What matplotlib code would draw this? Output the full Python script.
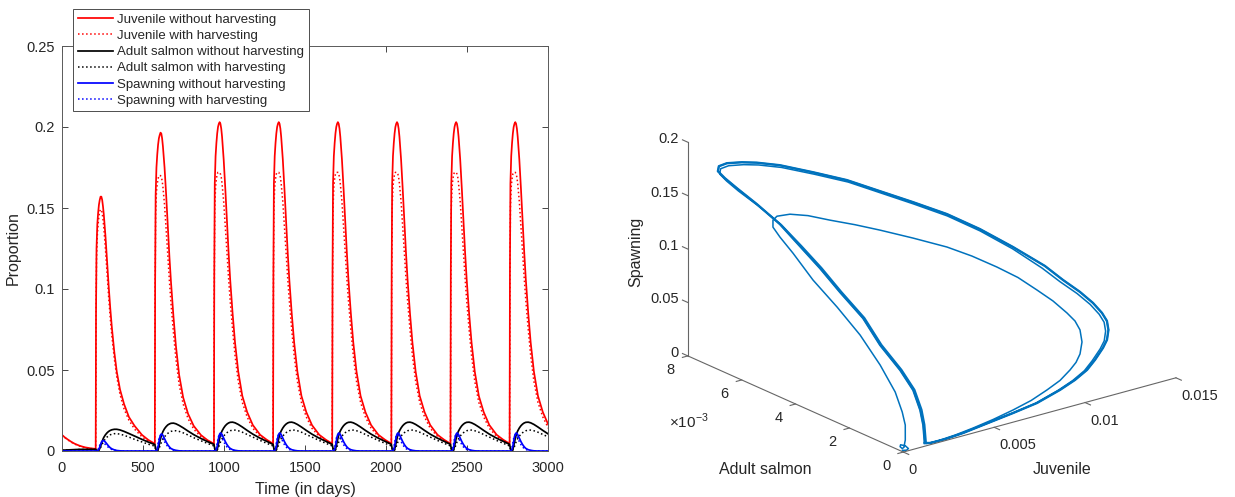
import numpy as np
import matplotlib
matplotlib.use("Agg")
import matplotlib.pyplot as plt
from mpl_toolkits.mplot3d import proj3d

plt.rcParams["font.family"] = ["Liberation Sans", "DejaVu Sans"]
plt.rcParams["mathtext.fontset"] = "custom"
plt.rcParams["mathtext.rm"] = "Liberation Sans"

# ---------------- time series (left panel) ----------------
# yearly release days and the days-after-release sampling used for every cycle
release_days = [208, 573, 938, 1303, 1668, 2033, 2398, 2763]
offsets = [0, 2, 5, 10, 15, 20, 25, 30, 35, 40, 45, 50, 60, 70, 80, 90,
           100, 115, 130, 150, 175, 205, 240, 285, 325, 364]

# before the first release
pre_days = [0, 20, 40, 60, 80, 110, 140, 175, 207]
juv_free_pre = [0.0099, 0.0082, 0.0068, 0.0055, 0.0044, 0.0032, 0.0023, 0.0017, 0.0013]
juv_harv_pre = [0.0099, 0.0081, 0.0066, 0.0053, 0.0042, 0.0030, 0.0021, 0.0015, 0.0012]
adult_free_pre = [0.0005, 0.0006, 0.0007, 0.0008, 0.0009, 0.0010, 0.0010, 0.0010, 0.0010]
adult_harv_pre = [0.0005, 0.0006, 0.0006, 0.0007, 0.0008, 0.0009, 0.0009, 0.0010, 0.0010]
spawn_free_pre = [0, 0, 0, 0, 0, 0, 0, 0, 0]
spawn_harv_pre = [0, 0, 0, 0, 0, 0, 0, 0, 0]

# juvenile, no harvesting: first, second and later (settled) cycles
juv_free_c1 = [0.0013, 0.085, 0.125, 0.140, 0.147, 0.152, 0.155, 0.157, 0.157, 0.155, 0.151, 0.146, 0.133,
               0.117, 0.102, 0.088, 0.076, 0.061, 0.049, 0.038, 0.029, 0.021, 0.0155, 0.010, 0.0068, 0.0045]
juv_free_c2 = [0.0045, 0.105, 0.158, 0.175, 0.183, 0.189, 0.193, 0.195, 0.1965, 0.196, 0.193, 0.188, 0.175,
               0.158, 0.139, 0.120, 0.104, 0.083, 0.065, 0.047, 0.033, 0.023, 0.0155, 0.0098, 0.0067, 0.0045]
juv_free_late = [0.0045, 0.110, 0.165, 0.182, 0.190, 0.196, 0.200, 0.202, 0.203, 0.202, 0.199, 0.194, 0.180,
                 0.162, 0.142, 0.123, 0.106, 0.085, 0.067, 0.049, 0.034, 0.024, 0.016, 0.010, 0.007, 0.0045]
# juvenile, with harvesting
juv_harv_c1 = [0.0012, 0.080, 0.118, 0.133, 0.140, 0.145, 0.148, 0.149, 0.149, 0.147, 0.143, 0.138, 0.125,
               0.110, 0.095, 0.082, 0.071, 0.057, 0.046, 0.035, 0.026, 0.019, 0.0135, 0.0088, 0.006, 0.0040]
juv_harv_c2 = [0.0040, 0.098, 0.146, 0.160, 0.165, 0.168, 0.170, 0.170, 0.170, 0.169, 0.167, 0.163, 0.152,
               0.137, 0.121, 0.105, 0.091, 0.073, 0.057, 0.041, 0.029, 0.020, 0.0135, 0.0087, 0.0060, 0.0040]
juv_harv_late = [0.0040, 0.100, 0.150, 0.163, 0.168, 0.171, 0.172, 0.172, 0.172, 0.171, 0.169, 0.165, 0.154,
                 0.139, 0.123, 0.107, 0.093, 0.075, 0.059, 0.043, 0.030, 0.021, 0.014, 0.009, 0.0062, 0.0040]
# adult salmon, no harvesting
adult_free_c1 = [0.0010, 0.0008, 0.0005, 0.0003, 0.0003, 0.0006, 0.0015, 0.0030, 0.0045, 0.0060, 0.0073, 0.0084,
                 0.0100, 0.0112, 0.0121, 0.0127, 0.0131, 0.0134, 0.0134, 0.0130, 0.0121, 0.0108, 0.0092,
                 0.0072, 0.0055, 0.0040]
adult_free_c2 = [0.0040, 0.0030, 0.0015, 0.0004, 0.0003, 0.0009, 0.0028, 0.0052, 0.0075, 0.0094, 0.0108, 0.0120,
                 0.0138, 0.0151, 0.0161, 0.0167, 0.0171, 0.0172, 0.0168, 0.0158, 0.0143, 0.0123, 0.0101,
                 0.0077, 0.0058, 0.0041]
adult_free_late = [0.0041, 0.0030, 0.0015, 0.0004, 0.0003, 0.0010, 0.0030, 0.0055, 0.0078, 0.0097, 0.0112,
                   0.0124, 0.0142, 0.0156, 0.0166, 0.0173, 0.0177, 0.0178, 0.0174, 0.0164, 0.0148, 0.0127,
                   0.0104, 0.0079, 0.0060, 0.0041]
# adult salmon, with harvesting
adult_harv_c1 = [0.0010, 0.0008, 0.0005, 0.0003, 0.0002, 0.0004, 0.0010, 0.0020, 0.0031, 0.0042, 0.0052, 0.0061,
                 0.0075, 0.0086, 0.0094, 0.0100, 0.0104, 0.0107, 0.0107, 0.0104, 0.0097, 0.0086, 0.0072,
                 0.0056, 0.0042, 0.0030]
adult_harv_c2 = [0.0030, 0.0022, 0.0011, 0.0003, 0.0002, 0.0005, 0.0013, 0.0026, 0.0040, 0.0052, 0.0063, 0.0072,
                 0.0088, 0.0100, 0.0109, 0.0116, 0.0121, 0.0125, 0.0125, 0.0121, 0.0112, 0.0099, 0.0082,
                 0.0063, 0.0047, 0.0031]
adult_harv_late = [0.0031, 0.0022, 0.0011, 0.0003, 0.0002, 0.0005, 0.0014, 0.0028, 0.0042, 0.0055, 0.0066,
                   0.0076, 0.0092, 0.0104, 0.0113, 0.0120, 0.0125, 0.0129, 0.0129, 0.0125, 0.0116, 0.0102,
                   0.0085, 0.0065, 0.0048, 0.0031]
# spawning, no harvesting
spawn_free_c1 = [0, 0, 0, 0.0001, 0.0004, 0.0012, 0.0025, 0.0040, 0.0053, 0.0061, 0.0065, 0.0064, 0.0055,
                 0.0042, 0.0030, 0.0020, 0.0013, 0.0007, 0.0003, 0.0001, 0, 0, 0, 0, 0, 0]
spawn_free_c2 = [0, 0, 0, 0.0002, 0.0009, 0.0027, 0.0055, 0.0082, 0.0098, 0.0105, 0.0103, 0.0096, 0.0076,
                 0.0055, 0.0038, 0.0025, 0.0015, 0.0008, 0.0004, 0.0001, 0, 0, 0, 0, 0, 0]
spawn_free_late = [0, 0, 0, 0.0002, 0.0010, 0.0030, 0.0060, 0.0088, 0.0104, 0.0111, 0.0109, 0.0101, 0.0080,
                   0.0058, 0.0040, 0.0026, 0.0016, 0.0008, 0.0004, 0.0001, 0, 0, 0, 0, 0, 0]
# spawning, with harvesting
spawn_harv_c1 = [0, 0, 0.0001, 0.0003, 0.0010, 0.0022, 0.0036, 0.0047, 0.0054, 0.0056, 0.0054, 0.0050, 0.0040,
                 0.0030, 0.0021, 0.0014, 0.0009, 0.0005, 0.0002, 0.0001, 0, 0, 0, 0, 0, 0]
spawn_harv_c2 = [0, 0, 0.0001, 0.0005, 0.0020, 0.0046, 0.0074, 0.0090, 0.0095, 0.0093, 0.0086, 0.0077, 0.0057,
                 0.0040, 0.0027, 0.0017, 0.0011, 0.0005, 0.0002, 0.0001, 0, 0, 0, 0, 0, 0]
spawn_harv_late = [0, 0, 0.0001, 0.0006, 0.0022, 0.0050, 0.0078, 0.0095, 0.0101, 0.0099, 0.0091, 0.0080,
                   0.0058, 0.0039, 0.0025, 0.0015, 0.0009, 0.0004, 0.0002, 0, 0, 0, 0, 0, 0, 0]

# ---------------- phase trajectory (right panel) ----------------
# juvenile and adult in units of 1e-3, spawning as a proportion
# transient part: start-up curl, first cycle, second cycle
traj_juv = [0.10, 0.25, 0.40, 0.38, 0.22, 0.12, 0.15, 0.28, 0.45,
            0.553, 0.848, 1.126, 1.332, 1.394, 1.329, 1.247, 1.109, 1.044, 1.068, 1.126, 1.274, 1.494,
            1.913, 2.607, 3.372, 4.229, 5.086, 6.235, 7.438, 8.221, 9.004, 9.641, 10.168, 10.604,
            10.931, 11.149, 11.202, 11.016, 10.685, 10.347, 9.914, 9.247, 8.429, 7.432, 6.340, 5.166,
            3.994, 2.946, 1.913, 1.264,
            1.26, 1.25, 1.24, 1.22, 1.17, 1.03, 0.98, 0.90, 0.84, 0.77, 0.78, 0.77, 0.71, 0.72, 0.71,
            0.84, 1.13, 1.66, 2.19, 2.93, 4.00, 5.12, 6.18, 7.24, 8.35, 9.41, 10.46,
            11.34, 11.81, 12.30, 12.65, 12.85, 12.90, 12.76, 12.46, 12.09, 11.46, 10.85,
            10.05, 9.10, 7.68, 6.24, 4.77, 3.34, 2.32, 1.48]
traj_adult = [0.10, 0.05, 0.08, 0.18, 0.25, 0.20, 0.14, 0.16, 0.25,
              0.30, 0.50, 0.80, 1.20, 1.80, 2.50, 3.30, 4.10, 4.80, 5.30, 5.60, 5.70, 5.70,
              5.50, 5.30, 5.00, 4.65, 4.30, 3.85, 3.40, 3.00, 2.60, 2.25, 1.90, 1.60,
              1.30, 1.15, 1.00, 0.80, 0.65, 0.57, 0.50, 0.42, 0.35, 0.27, 0.20, 0.15,
              0.10, 0.06, 0.03, 0.00,
              0.00, 0.05, 0.15, 0.40, 0.85, 1.50, 2.10, 2.90, 3.60, 4.30, 5.05, 5.90, 6.60, 7.05, 7.30,
              7.35, 7.25, 7.05, 6.85, 6.50, 6.00, 5.50, 5.00, 4.50, 4.00, 3.50, 3.00,
              2.50, 2.15, 1.85, 1.60, 1.40, 1.25, 1.10, 0.95, 0.85, 0.72, 0.60,
              0.50, 0.40, 0.28, 0.18, 0.10, 0.05, 0.02, 0.00]
traj_spawn = [0.0, 0.0, 0.0005, 0.0020, 0.0030, 0.0022, 0.0010, 0.0015, 0.0040,
              0.0053, 0.0157, 0.0232, 0.0365, 0.0547, 0.0752, 0.0928, 0.1097, 0.1273, 0.1366, 0.1423,
              0.1470, 0.1497, 0.1519, 0.1496, 0.1452, 0.1409, 0.1358, 0.1281, 0.1192, 0.1116, 0.1022,
              0.0934, 0.0832, 0.0743, 0.0649, 0.0581, 0.0512, 0.0430, 0.0350, 0.0296, 0.0253, 0.0195,
              0.0152, 0.0108, 0.0078, 0.0049, 0.0029, 0.0016, 0.0011, 0.0021,
              0.0025, 0.0193, 0.0322, 0.0482, 0.0621, 0.0788, 0.0975, 0.1132, 0.1281, 0.1411, 0.1522,
              0.1604, 0.1668, 0.1711, 0.1749,
              0.1786, 0.1812, 0.1820, 0.1815, 0.1797, 0.1740, 0.1671, 0.1575, 0.1480, 0.1373, 0.1240,
              0.1080,
              0.0915, 0.0805, 0.0706, 0.0616, 0.0537, 0.0477, 0.0417, 0.0356, 0.0310, 0.0243, 0.0191,
              0.0146, 0.0110, 0.0068, 0.0053, 0.0038, 0.0017, 0.0011, 0.0016]
# settled yearly cycle
cycle_juv = [1.181, 1.173, 1.156, 1.140, 1.090, 0.951, 0.903, 0.821, 0.755, 0.690, 0.699, 0.690, 0.625,
             0.630, 0.615, 0.743, 1.035, 1.564, 2.093, 2.840, 3.915, 5.045, 6.120, 7.195, 8.324, 9.399,
             10.474, 11.494, 11.966, 12.457, 12.802, 13.002, 13.054, 12.915, 12.612, 12.244, 11.613,
             10.996, 10.189, 9.217, 7.776, 6.310, 4.818, 3.370, 2.337, 1.484, 1.181]
cycle_adult = [0.00, 0.05, 0.15, 0.40, 0.85, 1.50, 2.10, 2.90, 3.60, 4.30, 5.05, 5.90, 6.60, 7.05, 7.30,
               7.35, 7.25, 7.05, 6.85, 6.50, 6.00, 5.50, 5.00, 4.50, 4.00, 3.50, 3.00, 2.50, 2.15, 1.85,
               1.60, 1.40, 1.25, 1.10, 0.95, 0.85, 0.72, 0.60, 0.50, 0.40, 0.28, 0.18, 0.10, 0.05, 0.02,
               0.00, 0.00]
cycle_spawn = [0.0030, 0.0193, 0.0322, 0.0482, 0.0621, 0.0788, 0.0975, 0.1132, 0.1281, 0.1411, 0.1532,
               0.1624, 0.1698, 0.1741, 0.1779, 0.1814, 0.1840, 0.1847, 0.1841, 0.1822, 0.1763, 0.1693,
               0.1596, 0.1500, 0.1392, 0.1258, 0.1097, 0.0928, 0.0815, 0.0714, 0.0623, 0.0543, 0.0482,
               0.0421, 0.0359, 0.0312, 0.0244, 0.0192, 0.0147, 0.0110, 0.0068, 0.0053, 0.0038, 0.0017,
               0.0011, 0.0016, 0.0030]

juv_ticks = [0, 0.005, 0.01, 0.015]
juv_ticklabels = ["0", "0.005", "0.01", "0.015"]
adult_ticks = [0, 0.002, 0.004, 0.006, 0.008]
adult_ticklabels = ["0", "2", "4", "6", "8"]
spawn_ticks = [0, 0.05, 0.1, 0.15, 0.2]
spawn_ticklabels = ["0", "0.05", "0.1", "0.15", "0.2"]


def build(pre, first, second, late):
    rows = [first, second] + [late] * (len(release_days) - 2)
    t, v = list(pre_days), list(pre)
    for day, row in zip(release_days, rows):
        t.extend(day + o for o in offsets)
        v.extend(row)
    return t, v


W, H = 1235, 497
fig = plt.figure(figsize=(W / 100, H / 100), dpi=100)
ink = "0.15"

ax = fig.add_axes([62 / W, 1 - 451 / H, (548 - 62) / W, (451 - 46) / H])
series = [
    ("Juvenile without harvesting", (juv_free_pre, juv_free_c1, juv_free_c2, juv_free_late), "red", "-"),
    ("Juvenile with harvesting", (juv_harv_pre, juv_harv_c1, juv_harv_c2, juv_harv_late), "red", ":"),
    ("Adult salmon without harvesting", (adult_free_pre, adult_free_c1, adult_free_c2, adult_free_late), "black", "-"),
    ("Adult salmon with harvesting", (adult_harv_pre, adult_harv_c1, adult_harv_c2, adult_harv_late), "black", ":"),
    ("Spawning without harvesting", (spawn_free_pre, spawn_free_c1, spawn_free_c2, spawn_free_late), "blue", "-"),
    ("Spawning with harvesting", (spawn_harv_pre, spawn_harv_c1, spawn_harv_c2, spawn_harv_late), "blue", ":"),
]
for label, parts, color, ls in series:
    t, v = build(*parts)
    ax.plot(t, v, color=color, ls=ls, lw=1.25 if ls == "-" else 1.1, label=label)

ax.set_xlim(0, 3000)
ax.set_ylim(0, 0.25)
ax.set_xticks(range(0, 3001, 500))
ax.set_yticks([0, 0.05, 0.1, 0.15, 0.2, 0.25])
ax.set_yticklabels(["0", "0.05", "0.1", "0.15", "0.2", "0.25"])
ax.tick_params(direction="in", top=True, right=True, length=4, width=0.6,
               colors=ink, labelsize=10.5)
ax.tick_params(axis="x", pad=7)
ax.tick_params(axis="y", pad=5)
for s in ax.spines.values():
    s.set_color("0.35")
    s.set_linewidth(0.7)
ax.set_xlabel("Time (in days)", fontsize=11.5, color=ink, labelpad=5)
ax.set_ylabel("Proportion", fontsize=11.5, color=ink, labelpad=4)

leg = ax.legend(loc="upper left", bbox_to_anchor=(73 / W, 1 - 9 / H), bbox_transform=fig.transFigure,
                borderaxespad=0, fontsize=9.5, handlelength=2.7, handletextpad=0.3, labelspacing=0.3,
                borderpad=0.35, fancybox=False, framealpha=1, edgecolor="0.3")
leg.get_frame().set_linewidth(0.7)
for txt in leg.get_texts():
    txt.set_color(ink)

# ---------------- 3D phase plot ----------------
ax3 = fig.add_axes([0.5, 0.05, 0.45, 0.9], projection="3d", proj_type="ortho")
ax3.set_box_aspect((346, 350, 228))
ax3.view_init(elev=20.4, azim=-128)
ax3.set_xlim(0, 0.015)
ax3.set_ylim(0, 0.008)
ax3.set_zlim(0, 0.2)
ax3.set_axis_off()

tj = np.array(traj_juv) * 1e-3
ta = np.array(traj_adult) * 1e-3
cj = np.array(cycle_juv) * 1e-3
ca = np.array(cycle_adult) * 1e-3
line_blue = "#0072BD"
ax3.plot(np.r_[tj, cj], np.r_[ta, ca], np.r_[traj_spawn, cycle_spawn], color=line_blue, lw=1.1)
ax3.plot(cj, ca, cycle_spawn, color=line_blue, lw=1.7)

# axis lines and tick marks
axis_grey = "0.4"
ax3.plot([0, 0.015], [0, 0], [0, 0], color=axis_grey, lw=0.8)
ax3.plot([0, 0], [0, 0.008], [0, 0], color=axis_grey, lw=0.8)
ax3.plot([0, 0], [0.008, 0.008], [0, 0.2], color=axis_grey, lw=0.8)
for v in juv_ticks:
    ax3.plot([v, v], [0, -0.0002], [0, 0], color=axis_grey, lw=0.8)
for v in adult_ticks:
    ax3.plot([0, -0.0003], [v, v], [0, 0], color=axis_grey, lw=0.8)
for v in spawn_ticks:
    ax3.plot([0, 0], [0.008, 0.0082], [v, v], color=axis_grey, lw=0.8)

# place the 3D box so its corners land where they should on the page
corners = [(0, 0, 0), (0.015, 0, 0), (0, 0.008, 0), (0, 0.008, 0.2)]
targets = np.array([(903, H - 452), (1176, H - 378), (688, H - 356), (688, H - 142)], float)


def to_px(x, y, z):
    px, py, _ = proj3d.proj_transform(np.atleast_1d(x), np.atleast_1d(y), np.atleast_1d(z), ax3.get_proj())
    return ax3.transData.transform(np.column_stack([px, py]))[0]


fig.canvas.draw()
meas = np.array([to_px(*c) for c in corners])
pm, tm = meas.mean(0), targets.mean(0)
k = ((targets - tm) * (meas - pm)).sum() / ((meas - pm) ** 2).sum()
bb = ax3.get_position()
c0 = np.array([(bb.x0 + bb.x1) / 2 * W, (bb.y0 + bb.y1) / 2 * H])
c1 = tm - k * (pm - c0)
sw, sh = bb.width * W * k, bb.height * H * k
ax3.set_position([(c1[0] - sw / 2) / W, (c1[1] - sh / 2) / H, sw / W, sh / H])
fig.canvas.draw()

# tick labels
for v, s in zip(juv_ticks, juv_ticklabels):
    p = to_px(v, 0, 0)
    fig.text((p[0] + 5) / W, (p[1] - 11) / H, s, ha="left", va="top", fontsize=10.5, color=ink)
for v, s in zip(adult_ticks, adult_ticklabels):
    p = to_px(0, v, 0)
    fig.text((p[0] - 13) / W, (p[1] - 14) / H, s, ha="right", va="center", fontsize=10.5, color=ink)
for v, s in zip(spawn_ticks, spawn_ticklabels):
    p = to_px(0, 0.008, v)
    fig.text((p[0] - 9) / W, (p[1] + 3) / H, s, ha="right", va="center", fontsize=10.5, color=ink)

fig.text(1062 / W, 1 - 469 / H, "Juvenile", ha="center", va="center", fontsize=11.5, color=ink)
fig.text(765 / W, 1 - 469 / H, "Adult salmon", ha="center", va="center", fontsize=11.5, color=ink)
fig.text(636 / W, 1 - 252 / H, "Spawning", rotation=90, ha="center", va="center", fontsize=11.5, color=ink)
fig.text(669 / W, 1 - 421 / H, r"$\times10^{-3}$", ha="left", va="center", fontsize=11, color=ink)

fig.savefig("out.png", dpi=100)
